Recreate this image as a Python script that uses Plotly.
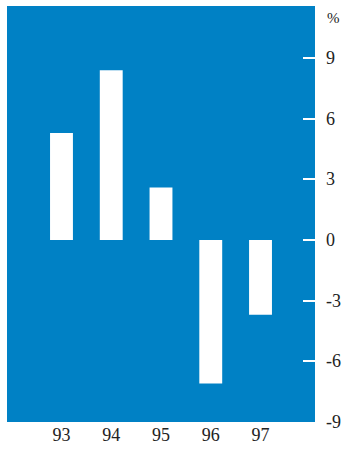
import plotly.graph_objects as go

years = ["93", "94", "95", "96", "97"]
values = [5.3, 8.4, 2.6, -7.1, -3.7]
y_ticks = [9, 6, 3, 0, -3, -6, -9]
y_tick_labels = ["9", "6", "3", "0", "-3", "-6", "-9"]

FAM = "Liberation Serif"
font = dict(family=FAM, size=18, color="#222222")

fig = go.Figure()
fig.add_trace(go.Bar(
    x=list(range(len(years))), y=values,
    width=0.46, marker=dict(color="white", line=dict(width=0)),
))

annotations = [dict(
    text=lab, xref="paper", yref="y", x=1.0, y=v,
    xanchor="left", yanchor="middle", xshift=9,
    showarrow=False, font=font,
) for v, lab in zip(y_ticks, y_tick_labels)]
annotations.append(dict(
    text="%", xref="paper", yref="paper", x=1.0, y=1.0,
    xanchor="left", yanchor="top", xshift=10, yshift=-2,
    showarrow=False, font=dict(family=FAM, size=15, color="#222222"),
))

fig.update_layout(
    width=344, height=453,
    margin=dict(l=7, r=29, t=6, b=31),
    paper_bgcolor="white", plot_bgcolor="#0081C5",
    showlegend=False, font=font,
    xaxis=dict(
        range=[-1.095, 5.095], tickvals=list(range(len(years))), ticktext=years,
        showgrid=False, zeroline=False, showline=False, ticks="",
        tickfont=font, fixedrange=True,
    ),
    yaxis=dict(
        side="right", range=[-9, 11.58], tickvals=y_ticks,
        showticklabels=False,
        showgrid=False, zeroline=False, showline=False,
        ticks="inside", ticklen=12, tickwidth=1.5, tickcolor="white",
        fixedrange=True,
    ),
    annotations=annotations,
)

fig.write_html("out.html")
